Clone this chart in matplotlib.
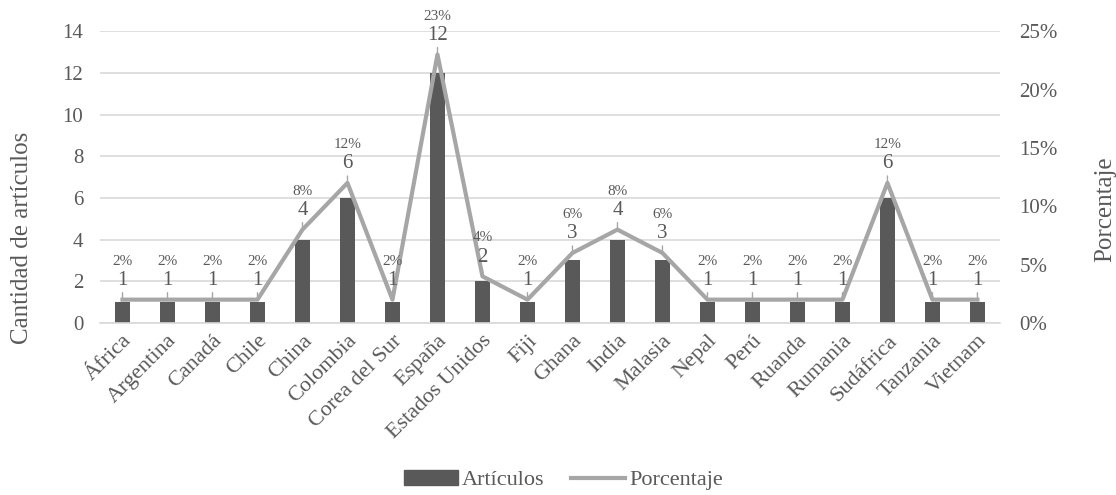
import matplotlib
matplotlib.use("Agg")
import matplotlib.pyplot as plt
from matplotlib.lines import Line2D
from matplotlib.patches import Patch

paises = ["África", "Argentina", "Canadá", "Chile", "China", "Colombia", "Corea del Sur",
          "España", "Estados Unidos", "Fiji", "Ghana", "India", "Malasia", "Nepal", "Perú",
          "Ruanda", "Rumania", "Sudáfrica", "Tanzania", "Vietnam"]
articulos = [1, 1, 1, 1, 4, 6, 1, 12, 2, 1, 3, 4, 3, 1, 1, 1, 1, 6, 1, 1]
porcentaje = [2, 2, 2, 2, 8, 12, 2, 23, 4, 2, 6, 8, 6, 2, 2, 2, 2, 12, 2, 2]
left_ticks = [0, 2, 4, 6, 8, 10, 12, 14]
right_ticks = [0, 5, 10, 15, 20, 25]

plt.rcParams['font.family'] = ['Liberation Serif', 'DejaVu Serif']
TXT = "#595959"
BAR = "#595959"
LINE = "#a6a6a6"
GRID = "#d9d9d9"

fig = plt.figure(figsize=(11.16, 4.95), dpi=100)
ax = fig.add_axes([0.0896, 0.3475, 0.8064, 0.5895])
ax2 = ax.twinx()

x = list(range(len(paises)))
ax.bar(x, articulos, width=0.33, color=BAR, zorder=2)
ax.set_ylim(0, 14)
ax.set_xlim(-0.5, len(paises) - 0.5)
ax.set_yticks(left_ticks)
ax.set_yticklabels([str(t) for t in left_ticks])
ax.yaxis.grid(True, color=GRID, linewidth=1.2, zorder=0)
ax.set_axisbelow(True)
ax.set_xticks(x)
ax.set_xticklabels(paises, rotation=45, ha='right', rotation_mode='anchor', fontsize=16, color=TXT)
ax.tick_params(axis='x', length=0, pad=6)
ax.tick_params(axis='y', length=0, labelsize=15, labelcolor=TXT, pad=12)
for s in ax.spines.values():
    s.set_visible(False)
ax.spines['bottom'].set_visible(True)
ax.spines['bottom'].set_color(GRID)
ax.spines['bottom'].set_linewidth(1.2)
ax.set_ylabel("Cantidad de artículos", fontsize=18, color=TXT)
ax.yaxis.set_label_coords(-0.0744, 0.29)

ax2.plot(x, porcentaje, color=LINE, linewidth=3, zorder=3)
ax2.set_ylim(0, 25)
ax2.set_yticks(right_ticks)
ax2.set_yticklabels([f"{t}%" for t in right_ticks])
ax2.tick_params(axis='y', length=0, labelsize=15, labelcolor=TXT, pad=14)
for s in ax2.spines.values():
    s.set_visible(False)
ax2.set_ylabel("Porcentaje", fontsize=18, color=TXT, rotation=90)
ax2.yaxis.set_label_coords(1.105, 0.39)

for xi, n, p in zip(x, articulos, porcentaje):
    ax2.annotate(str(n), (xi, p), xytext=(0, 7), textcoords='offset points',
                 ha='center', va='bottom', fontsize=15, color=TXT, zorder=5,
                 arrowprops=dict(arrowstyle='-', color=LINE, lw=1, shrinkA=0, shrinkB=0))
    ax2.annotate(f"{p}%", (xi, p), xytext=(0, 23), textcoords='offset points',
                 ha='center', va='bottom', fontsize=11, color=TXT, zorder=5)

handles = [Patch(facecolor=BAR, edgecolor=BAR),
           Line2D([0], [0], color=LINE, linewidth=3)]
fig.legend(handles, ["Artículos", "Porcentaje"], loc='center', bbox_to_anchor=(0.505, 0.03),
           ncol=2, frameon=False, fontsize=16, labelcolor=TXT, handlelength=2.4,
           handletextpad=0.2, columnspacing=1.2, borderpad=0, borderaxespad=0)

fig.savefig("out.png", dpi=100)
